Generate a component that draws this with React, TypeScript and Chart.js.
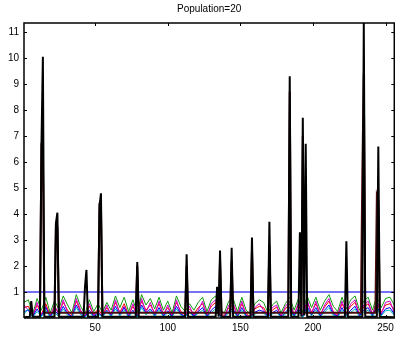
import React, { useEffect, useRef } from "react";
import { Chart, registerables } from "chart.js";

Chart.register(...registerables);

const titleText = "Population=20";
const xTicks = [50, 100, 150, 200, 250];
const yTicks = [1, 2, 3, 4, 5, 6, 7, 8, 9, 10, 11];
const xMin = 1;
const xMax = 256;
const yMax = 11.35;
const threshold = 1;

// noise series sampled every 3 generations starting at 1
const noiseStep = 3;
const greenVals = [
  0.6, 0.7, 0.15, 0.75, 0.3, 0.8, 0.2, 0.65, 0.35, 0.85,
  0.5, 0.2, 0.9, 0.45, 0.15, 0.7, 0.25, 0.55, 0.2, 0.6,
  0.3, 0.85, 0.4, 0.8, 0.25, 0.7, 0.2, 0.9, 0.5, 0.75,
  0.35, 0.8, 0.3, 0.65, 0.2, 0.85, 0.45, 0.25, 0.55, 0.3,
  0.6, 0.8, 0.25, 0.7, 0.85, 0.3, 0.2, 0.65, 0.75, 0.25,
  0.8, 0.3, 0.15, 0.55, 0.7, 0.6, 0.2, 0.5, 0.65, 0.2,
  0.55, 0.8, 0.3, 0.75, 0.2, 0.85, 0.4, 0.8, 0.3, 0.65,
  0.9, 0.45, 0.25, 0.8, 0.35, 0.7, 0.85, 0.3, 0.65, 0.8,
  0.3, 0.85, 0.4, 0.75, 0.8, 0.5,
];
const redVals = [
  0.4, 0.45, 0.08, 0.5, 0.15, 0.55, 0.1, 0.4, 0.2, 0.6,
  0.3, 0.1, 0.65, 0.25, 0.08, 0.45, 0.12, 0.35, 0.1, 0.4,
  0.15, 0.6, 0.22, 0.55, 0.12, 0.45, 0.1, 0.65, 0.3, 0.5,
  0.2, 0.55, 0.15, 0.4, 0.1, 0.6, 0.25, 0.12, 0.35, 0.15,
  0.4, 0.55, 0.12, 0.45, 0.6, 0.15, 0.1, 0.4, 0.5, 0.12,
  0.55, 0.15, 0.06, 0.35, 0.45, 0.4, 0.1, 0.3, 0.42, 0.1,
  0.35, 0.55, 0.15, 0.5, 0.1, 0.6, 0.22, 0.55, 0.15, 0.42,
  0.65, 0.25, 0.12, 0.55, 0.2, 0.45, 0.6, 0.15, 0.42, 0.55,
  0.15, 0.6, 0.22, 0.5, 0.55, 0.3,
];
const magentaVals = [
  0.5, 0.3, 0.05, 0.6, 0.1, 0.45, 0.05, 0.5, 0.12, 0.7,
  0.2, 0.05, 0.75, 0.3, 0.05, 0.55, 0.1, 0.25, 0.05, 0.5,
  0.1, 0.7, 0.15, 0.45, 0.08, 0.55, 0.05, 0.75, 0.2, 0.6,
  0.12, 0.65, 0.1, 0.5, 0.05, 0.7, 0.15, 0.08, 0.45, 0.1,
  0.3, 0.65, 0.08, 0.55, 0.7, 0.1, 0.05, 0.5, 0.6, 0.08,
  0.65, 0.1, 0.04, 0.4, 0.55, 0.3, 0.05, 0.4, 0.5, 0.05,
  0.45, 0.65, 0.1, 0.6, 0.05, 0.7, 0.15, 0.65, 0.1, 0.5,
  0.75, 0.2, 0.08, 0.65, 0.15, 0.55, 0.7, 0.1, 0.5, 0.65,
  0.1, 0.7, 0.15, 0.6, 0.65, 0.2,
];
const blueVals = [
  0.25, 0.3, 0.04, 0.35, 0.08, 0.4, 0.05, 0.3, 0.1, 0.45,
  0.15, 0.05, 0.5, 0.18, 0.04, 0.3, 0.06, 0.2, 0.05, 0.3,
  0.08, 0.45, 0.12, 0.4, 0.06, 0.3, 0.05, 0.5, 0.18, 0.35,
  0.1, 0.4, 0.08, 0.28, 0.05, 0.45, 0.15, 0.06, 0.25, 0.08,
  0.25, 0.4, 0.06, 0.3, 0.45, 0.08, 0.05, 0.28, 0.35, 0.06,
  0.4, 0.08, 0.03, 0.22, 0.3, 0.25, 0.05, 0.2, 0.3, 0.05,
  0.22, 0.4, 0.08, 0.35, 0.05, 0.45, 0.12, 0.4, 0.08, 0.3,
  0.5, 0.15, 0.06, 0.4, 0.1, 0.3, 0.45, 0.08, 0.3, 0.4,
  0.08, 0.45, 0.12, 0.35, 0.4, 0.15,
];
const cyanVals = [
  0.15, 0.35, 0.02, 0.25, 0.05, 0.3, 0.02, 0.2, 0.06, 0.35,
  0.1, 0.02, 0.4, 0.12, 0.02, 0.22, 0.04, 0.15, 0.03, 0.25,
  0.05, 0.35, 0.08, 0.3, 0.04, 0.22, 0.03, 0.4, 0.12, 0.28,
  0.06, 0.3, 0.05, 0.2, 0.03, 0.35, 0.1, 0.04, 0.2, 0.05,
  0.18, 0.3, 0.04, 0.22, 0.35, 0.05, 0.03, 0.2, 0.28, 0.04,
  0.3, 0.05, 0.02, 0.15, 0.22, 0.18, 0.03, 0.15, 0.22, 0.03,
  0.15, 0.3, 0.05, 0.28, 0.03, 0.35, 0.08, 0.3, 0.05, 0.22,
  0.4, 0.1, 0.04, 0.3, 0.06, 0.22, 0.35, 0.05, 0.22, 0.3,
  0.05, 0.35, 0.08, 0.28, 0.3, 0.1,
];

// best-individual spikes (black)
const blackX = [
  1, 5, 6, 7, 12, 13, 14, 15, 22, 23, 24, 25, 42, 43, 44, 45, 52, 53, 54, 55,
  78, 79, 80, 112, 113, 114, 133, 134, 135, 136, 137, 143, 144, 145, 157, 158, 159,
  169, 170, 171, 183, 184, 185, 190, 191, 192, 193, 194, 195, 196,
  222, 223, 224, 234, 235, 236, 244, 245, 246, 256,
];
const blackY = [
  0.03, 0.05, 0.65, 0.05, 0.05, 6.6, 10.05, 0.05, 0.05, 3.65, 4.05, 0.05, 0.05, 1.2, 1.85, 0.05, 0.05, 4.3, 4.8, 0.05,
  0.05, 2.15, 0.05, 0.05, 2.45, 0.05, 0.05, 1.2, 0.05, 2.6, 0.05, 0.05, 2.7, 0.05, 0.05, 3.1, 0.05,
  0.05, 3.7, 0.05, 0.05, 9.3, 0.05, 0.05, 3.3, 0.05, 7.7, 0.1, 6.7, 0.05,
  0.05, 2.95, 0.05, 0.05, 11.35, 0.05, 0.05, 6.6, 0.05, 0.03,
];
// shoulders (dark red)
const darkX = [
  12, 13, 14, 15, 22, 23, 24, 25, 52, 53, 54, 55, 78, 79, 80, 112, 113, 114,
  135, 136, 137, 143, 144, 145, 157, 158, 159, 169, 170, 171, 183, 184, 185,
  192, 193, 194, 233, 234, 235, 236, 243, 244, 245, 246,
];
const darkY = [
  0.2, 6.5, 6.3, 0.2, 0.2, 3.6, 3.5, 0.2, 0.2, 4.3, 4.2, 0.2, 0.2, 2.0, 0.2, 0.2, 2.0, 0.2,
  0.2, 2.2, 0.2, 0.2, 2.2, 0.2, 0.2, 2.6, 0.2, 0.2, 2.8, 0.2, 0.2, 8.7, 0.2,
  0.2, 7.0, 0.2, 0.2, 5.6, 9.4, 0.2, 0.2, 4.7, 4.5, 0.2,
];

const toXY = (vals: number[]) => vals.map((v, i) => ({ x: xMin + i * noiseStep, y: v }));
const pairs = (xs: number[], ys: number[]) => xs.map((x, i) => ({ x, y: ys[i] }));

const FONT = "'Liberation Sans', Arial, Helvetica, sans-serif";

const framePlugin = {
  id: "frame",
  afterDatasetsDraw(chart: any) {
    const { ctx, chartArea: a, scales } = chart;
    ctx.save();
    ctx.strokeStyle = "#000";
    ctx.lineWidth = 1.5;
    ctx.beginPath();
    ctx.moveTo(a.left, a.bottom);
    ctx.lineTo(a.left, a.top);
    ctx.lineTo(a.right, a.top);
    ctx.lineTo(a.right, a.bottom);
    ctx.lineTo(a.left, a.bottom);
    ctx.stroke();
    ctx.lineWidth = 1;
    const tl = 3;
    ctx.beginPath();
    xTicks.forEach((t) => {
      const px = Math.round(scales.x.getPixelForValue(t)) + 0.5;
      ctx.moveTo(px, a.top);
      ctx.lineTo(px, a.top + tl);
      ctx.moveTo(px, a.bottom);
      ctx.lineTo(px, a.bottom - tl);
    });
    yTicks.forEach((t) => {
      const py = Math.round(scales.y.getPixelForValue(t)) + 0.5;
      ctx.moveTo(a.left, py);
      ctx.lineTo(a.left + tl, py);
      ctx.moveTo(a.right, py);
      ctx.lineTo(a.right - tl, py);
    });
    ctx.stroke();
    ctx.restore();
  },
};

export default function App() {
  const ref = useRef<HTMLCanvasElement>(null);
  useEffect(() => {
    document.body.style.overflow = "hidden";
    const noise = (data: any, color: string, order: number) => ({
      data,
      borderColor: color,
      borderWidth: 1,
      pointRadius: 0,
      tension: 0,
      order,
    });
    const chart = new Chart(ref.current!, {
      type: "line",
      data: {
        datasets: [
          {
            data: pairs(blackX, blackY),
            borderColor: "#000000",
            borderWidth: 2,
            pointRadius: 0,
            order: 0,
          },
          {
            data: pairs(darkX, darkY),
            borderColor: "#4a0c0c",
            borderWidth: 2,
            pointRadius: 0,
            order: 1,
          },
          noise(toXY(cyanVals), "#00bfbf", 2),
          noise(toXY(blueVals), "#0000ff", 3),
          noise(toXY(magentaVals), "#cc00cc", 4),
          noise(toXY(redVals), "#ff0000", 5),
          noise(toXY(greenVals), "#109a10", 6),
          {
            data: [
              { x: xMin, y: threshold },
              { x: xMax, y: threshold },
            ],
            borderColor: "#7272f2",
            borderWidth: 2,
            pointRadius: 0,
            order: 10,
          },
        ] as any,
      },
      options: {
        animation: false,
        responsive: false,
        maintainAspectRatio: false,
        layout: { padding: 0 },
        plugins: {
          legend: { display: false },
          tooltip: { enabled: false },
          title: {
            display: true,
            text: titleText,
            color: "#000",
            fullSize: false,
            font: { family: FONT, size: 10, weight: "normal" },
            padding: { top: 3, bottom: 8 },
          },
        },
        scales: {
          x: {
            type: "linear",
            min: xMin,
            max: xMax,
            grid: { display: false, drawTicks: false },
            border: { display: false },
            afterBuildTicks: (s: any) => {
              s.ticks = xTicks.map((v) => ({ value: v }));
            },
            afterFit: (s: any) => {
              s.height = 20;
            },
            ticks: {
              color: "#000",
              padding: 4,
              maxRotation: 0,
              font: { family: FONT, size: 10 },
              callback: (v: any) => String(v),
            },
          },
          y: {
            type: "linear",
            min: 0,
            max: yMax,
            grid: { display: false, drawTicks: false },
            border: { display: false },
            afterBuildTicks: (s: any) => {
              s.ticks = yTicks.map((v) => ({ value: v }));
            },
            afterFit: (s: any) => {
              s.width = 24;
            },
            ticks: {
              color: "#000",
              padding: 5,
              font: { family: FONT, size: 10 },
              callback: (v: any) => String(v),
            },
          },
        },
      },
      plugins: [framePlugin],
    });
    return () => chart.destroy();
  }, []);
  return (
    <div style={{ position: "absolute", left: 0, top: 0, width: 398, height: 338, background: "#fff" }}>
      <canvas ref={ref} width={398} height={338} style={{ display: "block" }} />
    </div>
  );
}
